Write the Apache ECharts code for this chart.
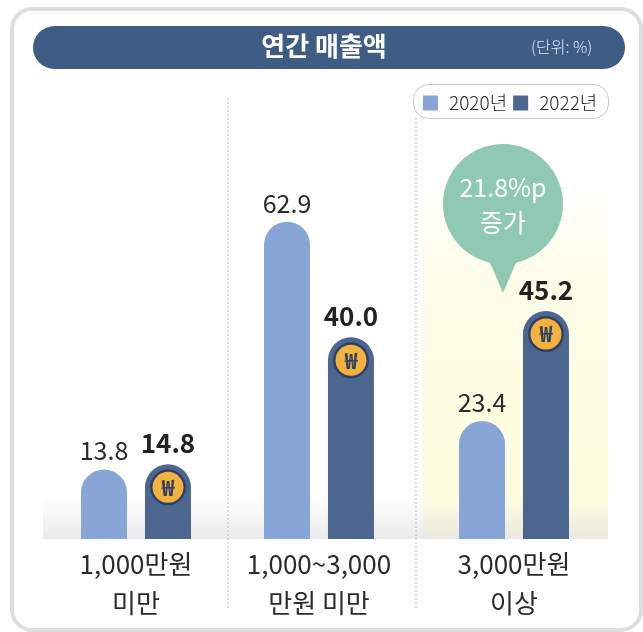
<!DOCTYPE html>
<html><head><meta charset="utf-8">
<style>html,body{margin:0;padding:0;background:#fff}#c{width:643px;height:632px}</style>
<script src="https://cdn.jsdelivr.net/npm/echarts@6/dist/echarts.min.js"></script>
</head><body><div id="c"></div>
<script>
const categories = ['1,000만원\n미만', '1,000~3,000\n만원 미만', '3,000만원\n이상'];
const seriesNames = ['2020년', '2022년'];
const values2020 = [13.8, 62.9, 23.4];
const values2022 = [14.8, 40.0, 45.2];
const titleText = '연간 매출액';
const unitText = '(단위: %)';
const calloutText = '21.8%p\n증가';

const FONT = '"Noto Sans CJK KR","Noto Sans",sans-serif';
const LIGHT = '#88a5d8', DARK = '#4c6690';
const panels = [[43, 186], [228, 182], [420, 188]];
const grids = panels.map(p => ({left: p[0], width: p[1], top: 70, bottom: 93, containLabel: false}));
const xAxes = categories.map((c, i) => ({
  type: 'category', gridIndex: i, data: [c],
  axisLine: {show: false}, axisTick: {show: false},
  axisLabel: {color: '#2b2b2b', fontFamily: FONT, fontSize: 26, fontWeight: 400, lineHeight: 39, margin: 6, interval: 0}
}));
const yAxes = categories.map((c, i) => ({
  type: 'value', gridIndex: i, min: 0, max: 93, show: false, splitLine: {show: false}
}));
const series = [];
categories.forEach((c, i) => {
  series.push({
    type: 'bar', name: seriesNames[0], xAxisIndex: i, yAxisIndex: i, data: [values2020[i]],
    barWidth: 46, barGap: '39%', itemStyle: {color: LIGHT, borderRadius: [23, 23, 0, 0]},
    label: {show: true, position: 'top', distance: 6, color: '#2b2b2b', fontFamily: FONT, fontSize: 25, fontWeight: 400,
      formatter: p => p.value.toFixed(1)}
  });
  series.push({
    type: 'bar', name: seriesNames[1], xAxisIndex: i, yAxisIndex: i, data: [values2022[i]],
    barWidth: 46, barGap: '39%', itemStyle: {color: DARK, borderRadius: [23, 23, 0, 0]},
    label: {show: true, position: 'top', distance: 8, color: '#222', fontFamily: FONT, fontSize: 26, fontWeight: 700,
      formatter: p => p.value.toFixed(1)}
  });
  series.push({
    type: 'custom', xAxisIndex: i, yAxisIndex: i, data: [values2022[i]], z: 5, silent: true,
    renderItem: (params, api) => {
      const pt = api.coord([0, api.value(0)]);
      const cx = pt[0] + 32, cy = pt[1] + 23;
      return {type: 'group', children: [
        {type: 'circle', shape: {cx, cy, r: 18}, style: {fill: '#2e3f66'}},
        {type: 'circle', shape: {cx, cy, r: 15.5}, style: {fill: '#f3b23e'}},
        {type: 'text', style: {x: cx, y: cy, text: '₩', align: 'center', verticalAlign: 'middle',
          fill: '#2e3f66', font: '700 22px ' + FONT}}
      ]};
    },
    encode: {x: -1, y: 0}
  });
});
const chart = echarts.init(document.getElementById('c'), null, {renderer: 'canvas'});
chart.setOption({
  animation: false,
  backgroundColor: '#fff',
  grid: grids, xAxis: xAxes, yAxis: yAxes, series,
  title: [
    {text: titleText, left: 324, top: 33, textAlign: 'center', padding: 0,
      textStyle: {color: '#fff', fontFamily: FONT, fontSize: 26, fontWeight: 700}},
    {text: unitText, left: 531, top: 39, padding: 0,
      textStyle: {color: '#e4e9f1', fontFamily: FONT, fontSize: 16, fontWeight: 300}}
  ],
  legend: {
    data: seriesNames, left: 423, top: 93, padding: 0, itemWidth: 15, itemHeight: 15, itemGap: 6,
    icon: 'rect', textStyle: {color: '#2b2b2b', fontFamily: FONT, fontSize: 19, fontWeight: 300, lineHeight: 20, padding: [0, 0, 0, 6]}
  },
  graphic: [
    {type: 'rect', z: -10, shape: {x: 12, y: 9, width: 629, height: 621, r: 20}, style: {fill: '#fff', stroke: '#dddddd', lineWidth: 4}},
    {type: 'rect', z: -9, shape: {x: 423, y: 175, width: 185, height: 364}, style: {fill: new echarts.graphic.LinearGradient(0, 0, 0, 1, [
      {offset: 0, color: 'rgba(255,254,232,0)'}, {offset: 0.3, color: '#fffee9'}, {offset: 1, color: '#fffddc'}])}},
    {type: 'rect', z: -8, shape: {x: 43, y: 497, width: 565, height: 42}, style: {fill: new echarts.graphic.LinearGradient(0, 0, 0, 1, [
      {offset: 0, color: 'rgba(225,225,225,0)'}, {offset: 1, color: 'rgba(225,225,225,0.7)'}])}},
    {type: 'rect', z: -7, shape: {x: 33, y: 26, width: 592, height: 43, r: 21.5}, style: {fill: '#3f5c85'}},
    {type: 'line', z: -6, shape: {x1: 228, y1: 98, x2: 228, y2: 608}, style: {stroke: '#bdbdbd', lineWidth: 1, lineDash: [2, 2]}},
    {type: 'line', z: -6, shape: {x1: 416, y1: 118, x2: 416, y2: 608}, style: {stroke: '#bdbdbd', lineWidth: 1, lineDash: [2, 2]}},
    {type: 'rect', z: -5, shape: {x: 413.5, y: 84.5, width: 195, height: 34, r: 15}, style: {fill: '#fff', stroke: '#c9c9c9', lineWidth: 1}},
    {type: 'circle', z: 6, shape: {cx: 503, cy: 204, r: 60}, style: {fill: '#8fc9b3'}},
    {type: 'polygon', z: 6, shape: {points: [[488, 258], [503, 293], [518, 258]]}, style: {fill: '#8fc9b3'}},
    {type: 'text', z: 7, style: {x: 503, y: 205, text: calloutText, align: 'center', verticalAlign: 'middle', fill: '#fff',
      font: '400 25px ' + FONT, lineHeight: 35}}
  ]
});
</script></body></html>
